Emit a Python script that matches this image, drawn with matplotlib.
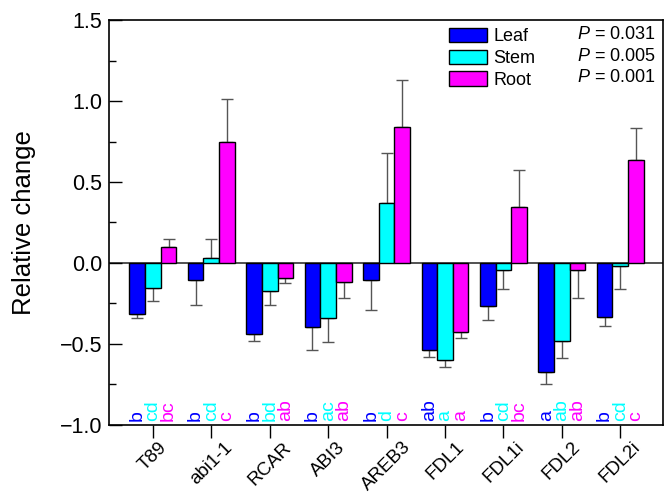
import matplotlib
matplotlib.use("Agg")
import matplotlib.pyplot as plt
import numpy as np
from matplotlib.patches import Patch

plt.rcParams['font.family'] = ['Liberation Sans', 'DejaVu Sans']
plt.rcParams['mathtext.fontset'] = 'custom'
plt.rcParams['mathtext.it'] = 'Liberation Sans:italic'
plt.rcParams['mathtext.rm'] = 'Liberation Sans'

categories = ["T89", "abi1-1", "RCAR", "ABI3", "AREB3", "FDL1", "FDL1i", "FDL2", "FDL2i"]
leaf = [-0.315, -0.103, -0.44, -0.397, -0.103, -0.535, -0.263, -0.675, -0.331]
leaf_err = [0.025, 0.158, 0.042, 0.143, 0.189, 0.045, 0.089, 0.072, 0.058]
stem = [-0.152, 0.029, -0.175, -0.342, 0.368, -0.60, -0.045, -0.48, -0.02]
stem_err = [0.081, 0.119, 0.082, 0.144, 0.313, 0.042, 0.117, 0.105, 0.138]
root = [0.097, 0.745, -0.09, -0.12, 0.841, -0.424, 0.344, -0.045, 0.638]
root_err = [0.051, 0.269, 0.034, 0.094, 0.287, 0.041, 0.228, 0.173, 0.194]
leaf_letters = ["b", "b", "b", "b", "b", "ab", "b", "a", "b"]
stem_letters = ["cd", "cd", "bd", "ac", "d", "a", "cd", "ab", "cd"]
root_letters = ["bc", "c", "ab", "ab", "c", "a", "bc", "ab", "c"]
series_names = ["Leaf", "Stem", "Root"]
p_values = ["0.031", "0.005", "0.001"]
colors = ["#0000FF", "#00FFFF", "#FF00FF"]

fig = plt.figure(figsize=(6.71, 4.94), dpi=100)
ax = fig.add_axes([0.1625, 0.1397, 0.8255, 0.8198])

x = np.arange(len(categories))
w = 0.268
series = [(leaf, leaf_err, leaf_letters), (stem, stem_err, stem_letters), (root, root_err, root_letters)]
ax.axhline(0, color="#333333", lw=1.2, zorder=1)
for i, (vals, errs, lets) in enumerate(series):
    xs = x + (i - 1) * w
    vals = np.array(vals)
    errs = np.array(errs)
    lower = np.where(vals < 0, errs, 0)
    upper = np.where(vals >= 0, errs, 0)
    ax.bar(xs, vals, width=w, color=colors[i], edgecolor="black", lw=1.0, zorder=3)
    ax.errorbar(xs, vals, yerr=[lower, upper], fmt="none", ecolor="#555555",
                elinewidth=1.0, capsize=4, capthick=1.0, zorder=2)
    for xi, l in zip(xs, lets):
        ax.text(xi, -0.977, l, rotation=90, ha="center", va="bottom",
                color=colors[i], fontsize=14, zorder=4)

ax.set_xlim(-0.75, 8.73)
ax.set_ylim(-1.0, 1.5)
ax.set_yticks([-1.0, -0.5, 0.0, 0.5, 1.0, 1.5])
ax.set_yticklabels(["\u22121.0", "\u22120.5", "0.0", "0.5", "1.0", "1.5"])
ax.set_yticks(np.arange(-1.0, 1.51, 0.25), minor=True)
ax.tick_params(axis="y", direction="in", length=9, width=1.0, labelsize=15.5, pad=5)
ax.tick_params(axis="y", which="minor", direction="in", length=5, width=1.0)
ax.set_xticks(x)
ax.set_xticklabels(categories, rotation=45, ha="center", fontsize=13.5)
ax.tick_params(axis="x", direction="out", length=9, width=1.0, pad=1)
ax.set_ylabel("Relative change", fontsize=18.5)
ax.yaxis.set_label_coords(-0.132, 0.5)
for s in ax.spines.values():
    s.set_linewidth(1.2)

handles = [Patch(facecolor=c, edgecolor="black", lw=1.0) for c in colors]
leg = ax.legend(handles, series_names, loc="upper left", bbox_to_anchor=(0.614, 0.981),
                frameon=False, fontsize=13, handlelength=2.1, handleheight=0.83,
                handletextpad=0.35, labelspacing=0.25, borderaxespad=0.0, borderpad=0.0)
for j, p in enumerate(p_values):
    ax.text(0.987, 0.963 - j * 0.053, r"$\it{P}$ = " + p, transform=ax.transAxes,
            ha="right", va="center", fontsize=13)

fig.savefig("out.png", dpi=100)
